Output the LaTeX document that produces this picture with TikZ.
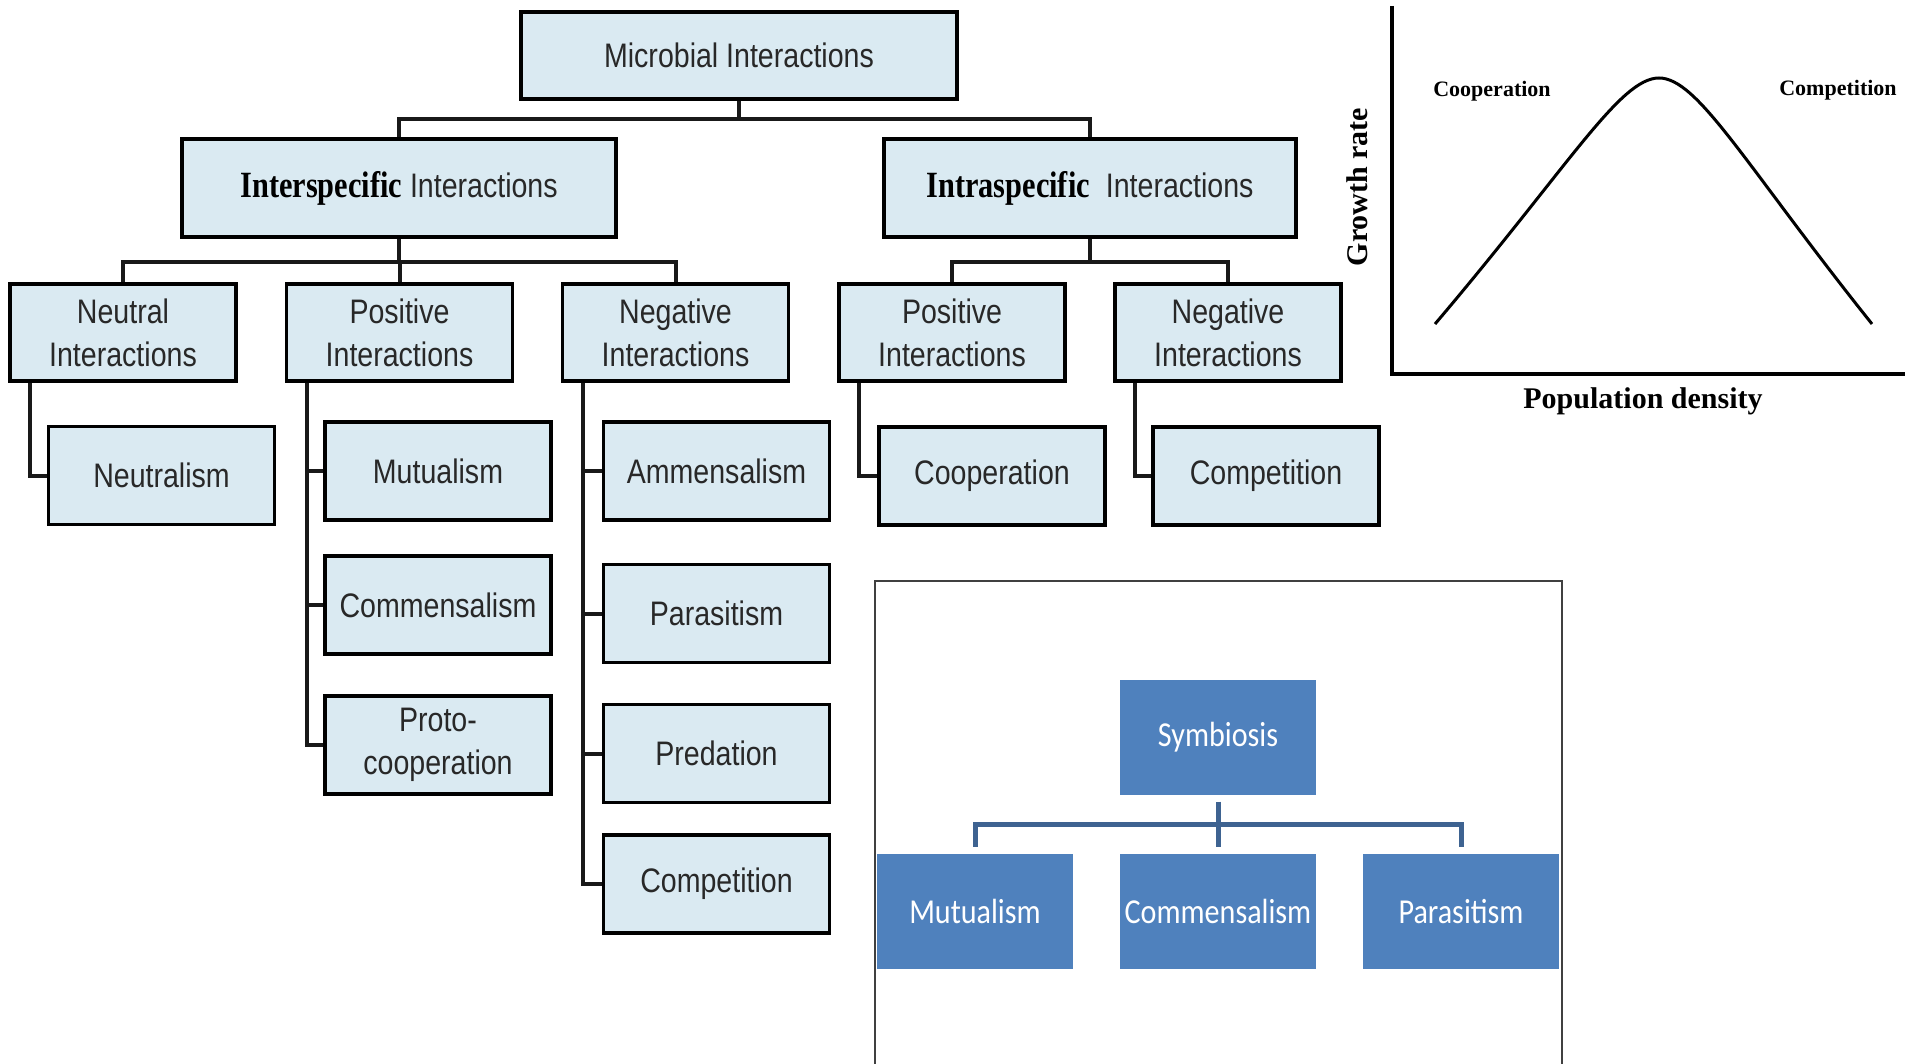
\documentclass[tikz,border=0pt]{standalone}
\usepackage{fontspec}
\setmainfont{Liberation Serif}
\newfontfamily\boxfont[FakeStretch=0.84]{Liberation Sans}
\newfontfamily\latfont[FakeStretch=0.82]{Liberation Serif}
\newfontfamily\symfont[FakeStretch=0.86]{Carlito}
\definecolor{boxblue}{RGB}{218,234,242}
\definecolor{boxtext}{RGB}{40,40,40}
\definecolor{symblue}{RGB}{79,129,189}
\definecolor{symline}{RGB}{62,99,145}

\begin{document}
\begin{tikzpicture}[x=1pt,y=1pt,
  ibox/.style={draw=black,line width=3.5pt,fill=boxblue,text=boxtext,inner sep=0pt,align=center,
    font=\boxfont\fontsize{34}{43}\selectfont},
  headbox/.style={ibox,minimum height=98pt},
  kindbox/.style={ibox,minimum width=226pt,minimum height=97pt},
  leafbox/.style={ibox,minimum width=226pt,minimum height=98pt},
  tree/.style={draw=black!90,line width=4pt},
  symbox/.style={fill=symblue,text=white,inner sep=0pt,minimum width=196pt,minimum height=115pt,
    font=\symfont\fontsize{35}{40}\selectfont},
  sline/.style={draw=symline,line width=5pt},
  lat/.style={font=\latfont\bfseries\fontsize{37}{43}\selectfont,text=black}]
\useasboundingbox (0,0) rectangle (1905,-1064);
\node [ibox,minimum width=436pt,minimum height=87pt] (mi) at (739,-55.5) {Microbial Interactions};
\node [headbox,minimum width=434pt] (inter) at (399,-188) {{\latfont\bfseries\fontsize{37}{43}\selectfont\color{black}Interspecific} Interactions};
\node [headbox,minimum width=412pt] (intra) at (1090,-188) {{\latfont\bfseries\fontsize{37}{43}\selectfont\color{black}Intraspecific}\hspace{8pt} Interactions};
\node [kindbox] (neut) at (123,-332.5) {Neutral\\Interactions};
\node [kindbox] (posi) at (399.5,-332.5) {Positive\\Interactions};
\node [kindbox] (nega) at (675.5,-332.5) {Negative\\Interactions};
\node [kindbox] (cpos) at (952,-332.5) {Positive\\Interactions};
\node [kindbox] (cneg) at (1228,-332.5) {Negative\\Interactions};
\node [leafbox] (neutralism) at (161.5,-475.5) {Neutralism};
\node [leafbox] (mutualism) at (438,-471) {Mutualism};
\node [leafbox] (commensalism) at (438,-605) {Commensalism};
\node [leafbox] (protocoop) at (438,-745) {Proto-\\cooperation};
\node [leafbox] (ammensalism) at (716.5,-471) {Ammensalism};
\node [leafbox] (parasitism) at (716.5,-613.5) {Parasitism};
\node [leafbox] (predation) at (716.5,-753.5) {Predation};
\node [leafbox] (competition) at (716.5,-884) {Competition};
\node [leafbox] (cooperation) at (992,-476) {Cooperation};
\node [leafbox] (ccompetition) at (1266,-476) {Competition};
\draw [tree] (mi.south) -- ++(0,-18) -| (inter.north);
\draw [tree] (mi.south) -- ++(0,-18) -| (intra.north);
\draw [tree] (inter.south) -- ++(0,-23) -| (neut.north);
\draw [tree] (inter.south) -- ++(0,-23) -| (posi.north);
\draw [tree] (inter.south) -- ++(0,-23) -| (nega.north);
\draw [tree] (intra.south) -- ++(0,-23) -| (cpos.north);
\draw [tree] (intra.south) -- ++(0,-23) -| (cneg.north);
\draw [tree] (neut.south west) ++(22,0) |- (neutralism.west);
\foreach \leaf in {mutualism,commensalism,protocoop}
  \draw [tree] (posi.south west) ++(22,0) |- (\leaf.west);
\foreach \leaf in {ammensalism,parasitism,predation,competition}
  \draw [tree] (nega.south west) ++(22,0) |- (\leaf.west);
\draw [tree] (cpos.south west) ++(22,0) |- (cooperation.west);
\draw [tree] (cneg.south west) ++(22,0) |- (ccompetition.west);
\draw [line width=4pt] (1392,-6) -- (1392,-374) -- (1910,-374);
\draw [line width=3pt] (1435,-324) .. controls (1570,-165) and (1620,-78) .. (1659,-78)
  .. controls (1698,-78) and (1745,-165) .. (1872,-324);
\node [font=\bfseries\fontsize{22}{26}\selectfont] (coop) at (1492,-91) {Cooperation};
\node [font=\bfseries\fontsize{22}{26}\selectfont] (comp) at (1838,-90) {Competition};
\node [font=\bfseries\fontsize{30}{34}\selectfont,rotate=90] (growth) at (1357,-187) {Growth rate};
\node [font=\bfseries\fontsize{30}{34}\selectfont] (density) at (1643,-401) {Population density};
\draw [line width=1.6pt,draw=black!75] (875,-581) rectangle (1562,-1072);
\node [symbox] (symb) at (1218,-737) {Symbiosis};
\node [symbox] (smutu) at (975,-911.5) {Mutualism};
\node [symbox] (scomm) at (1218,-911.5) {Commensalism};
\node [symbox] (spara) at (1461,-911.5) {Parasitism};
\draw [sline] ([yshift=-7pt]symb.south) -- ([yshift=7pt]scomm.north);
\draw [sline] ([yshift=7pt]smutu.north) -- ++(0,22) -| ([yshift=7pt]spara.north);
\end{tikzpicture}
\end{document}
